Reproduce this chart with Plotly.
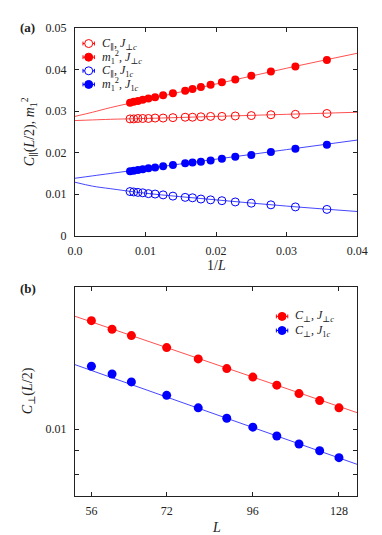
import math
import plotly.graph_objects as go

# ---------------- data: panel (a) ----------------
L_top = [128, 120, 112, 104, 96, 88, 80, 72, 64, 60, 56, 52, 48, 44, 40, 36, 32, 28]
inv_L = [1.0 / l for l in L_top]

C_par_Jperp = [0.0281, 0.0281, 0.0282, 0.0282, 0.0282, 0.0283, 0.0283, 0.0284, 0.0285,
               0.0285, 0.0286, 0.0287, 0.0287, 0.0288, 0.0289, 0.0291, 0.0292, 0.0294]
m1sq_Jperp = [0.0320, 0.0322, 0.0324, 0.0327, 0.0330, 0.0333, 0.0338, 0.0343, 0.0349,
              0.0353, 0.0358, 0.0363, 0.0369, 0.0376, 0.0385, 0.0395, 0.0407, 0.0423]
C_par_J1 = [0.0106, 0.0105, 0.0104, 0.0103, 0.0101, 0.0100, 0.0098, 0.0095, 0.0092,
            0.0091, 0.0088, 0.0086, 0.0084, 0.0081, 0.0078, 0.0074, 0.0069, 0.0063]
m1sq_J1 = [0.0155, 0.0156, 0.0158, 0.0160, 0.0162, 0.0164, 0.0167, 0.0170, 0.0174,
           0.0176, 0.0178, 0.0181, 0.0185, 0.0190, 0.0194, 0.0201, 0.0209, 0.0219]

# fit curves
fit_x = [0.0, 0.0025, 0.005, 0.01, 0.02, 0.03, 0.04]
fit_m1sq_Jperp = [0.0287, 0.0297, 0.0308, 0.0327, 0.0365, 0.0403, 0.0439]
fit_C_par_Jperp = [0.0277, 0.02785, 0.0280, 0.0282, 0.0287, 0.0292, 0.0297]
fit_m1sq_J1 = [0.0138, 0.01438, 0.01495, 0.0161, 0.0184, 0.0207, 0.0230]
fit_C_par_J1 = [0.01285, 0.0119, 0.0113, 0.0102, 0.0086, 0.0071, 0.0058]

x_ticks_a = [0.0, 0.01, 0.02, 0.03, 0.04]
x_ticktext_a = ["0.0", "0.01", "0.02", "0.03", "0.04"]
y_ticks_a = [0.0, 0.01, 0.02, 0.03, 0.04, 0.05]
y_ticktext_a = ["0", "0.01", "0.02", "0.03", "0.04", "0.05"]

# ---------------- data: panel (b) ----------------
L_bot = [56, 60, 64, 72, 80, 88, 96, 104, 112, 120, 128]
C_perp_Jperp = [0.0170, 0.0163, 0.0158, 0.0149, 0.0141, 0.01345, 0.0129, 0.0124, 0.0119, 0.0115, 0.0111]
C_perp_J1 = [0.0136, 0.0131, 0.0126, 0.0118, 0.0111, 0.01055, 0.0101, 0.00967, 0.0093, 0.0090, 0.0087]

fit_L = [53, 136]
fit_C_perp_Jperp = [0.01737, 0.01084]
fit_C_perp_J1 = [0.01371, 0.00842]

x_ticks_b = [56, 72, 96, 128]
y_ticks_b = [0.008, 0.009, 0.01, 0.02]
y_ticktext_b = ["", "", "0.01", ""]

# ---------------- styling ----------------
W, H = 382, 535
RED = "#ff0000"
BLUE = "#0000ff"
RED_LINE = "rgb(255,80,80)"
BLUE_LINE = "rgb(70,70,255)"
FONT = "Liberation Serif, DejaVu Serif, serif"
TXT = "#222"

def px(x):
    return x / W

def py(y):
    return 1 - y / H

fig = go.Figure()

# panel (a) fits
for fy, col in [(fit_m1sq_Jperp, RED_LINE), (fit_C_par_Jperp, RED_LINE),
                (fit_m1sq_J1, BLUE_LINE), (fit_C_par_J1, BLUE_LINE)]:
    fig.add_trace(go.Scatter(x=fit_x, y=fy, mode="lines", line=dict(color=col, width=1, shape="spline"),
                             xaxis="x", yaxis="y", showlegend=False, hoverinfo="skip"))

# panel (a) data
fig.add_trace(go.Scatter(x=inv_L, y=C_par_Jperp, mode="markers", name="C_par J_perp",
                         marker=dict(symbol="circle-open", size=8, color=RED, line=dict(width=1)),
                         xaxis="x", yaxis="y", showlegend=False))
fig.add_trace(go.Scatter(x=inv_L, y=m1sq_Jperp, mode="markers", name="m1^2 J_perp",
                         marker=dict(symbol="circle", size=8, color=RED),
                         xaxis="x", yaxis="y", showlegend=False))
fig.add_trace(go.Scatter(x=inv_L, y=C_par_J1, mode="markers", name="C_par J_1",
                         marker=dict(symbol="circle-open", size=8, color=BLUE, line=dict(width=1)),
                         xaxis="x", yaxis="y", showlegend=False))
fig.add_trace(go.Scatter(x=inv_L, y=m1sq_J1, mode="markers", name="m1^2 J_1",
                         marker=dict(symbol="circle", size=8, color=BLUE),
                         xaxis="x", yaxis="y", showlegend=False))

# panel (b) fits
for fy, col in [(fit_C_perp_Jperp, RED_LINE), (fit_C_perp_J1, BLUE_LINE)]:
    fig.add_trace(go.Scatter(x=fit_L, y=fy, mode="lines", line=dict(color=col, width=1),
                             xaxis="x2", yaxis="y2", showlegend=False, hoverinfo="skip"))
fig.add_trace(go.Scatter(x=L_bot, y=C_perp_Jperp, mode="markers", name="C_perp J_perp",
                         marker=dict(symbol="circle", size=9, color=RED),
                         xaxis="x2", yaxis="y2", showlegend=False))
fig.add_trace(go.Scatter(x=L_bot, y=C_perp_J1, mode="markers", name="C_perp J_1",
                         marker=dict(symbol="circle", size=9, color=BLUE),
                         xaxis="x2", yaxis="y2", showlegend=False))

# manual legends (symbol with small error-bar whiskers + text)
shapes = []
annotations = []

def legend_entry(xc, yc, color, filled, text, xtext):
    shapes.append(dict(type="line", xref="paper", yref="paper", x0=px(xc - 6), x1=px(xc + 6),
                       y0=py(yc), y1=py(yc), line=dict(color=color, width=1)))
    for e in (xc - 6, xc + 6):
        shapes.append(dict(type="line", xref="paper", yref="paper", x0=px(e), x1=px(e),
                           y0=py(yc - 2), y1=py(yc + 2), line=dict(color=color, width=1)))
    shapes.append(dict(type="circle", xref="paper", yref="paper", xsizemode="pixel", ysizemode="pixel",
                       xanchor=px(xc), yanchor=py(yc), x0=-4, x1=4, y0=-4, y1=4,
                       line=dict(color=color, width=1),
                       fillcolor=color if filled else "white"))
    annotations.append(dict(x=px(xtext), y=py(yc), xref="paper", yref="paper", text=text,
                            showarrow=False, xanchor="left", yanchor="middle",
                            font=dict(family=FONT, size=12, color=TXT)))

leg_a = [
    (RED, False, "<i>C</i><sub>∥</sub>, <i>J</i><sub>⊥<i>c</i></sub>"),
    (RED, True, "<i>m</i><sub>1</sub><sup>2</sup>, <i>J</i><sub>⊥<i>c</i></sub>"),
    (BLUE, False, "<i>C</i><sub>∥</sub>, <i>J</i><sub>1<i>c</i></sub>"),
    (BLUE, True, "<i>m</i><sub>1</sub><sup>2</sup>, <i>J</i><sub>1<i>c</i></sub>"),
]
for i, (c, f, t) in enumerate(leg_a):
    legend_entry(76.5, 29.3 + 14 * i, c, f, t, 88)

leg_b = [
    (RED, True, "<i>C</i><sub>⊥</sub>, <i>J</i><sub>⊥<i>c</i></sub>"),
    (BLUE, True, "<i>C</i><sub>⊥</sub>, <i>J</i><sub>1<i>c</i></sub>"),
]
for i, (c, f, t) in enumerate(leg_b):
    legend_entry(280, 309.5 + 14.5 * i, c, f, t, 292)

# titles and panel labels
annotations += [
    dict(x=px(2), y=py(13), xref="paper", yref="paper", text="<b>(a)</b>", showarrow=False,
         xanchor="left", yanchor="middle", font=dict(family=FONT, size=13, color=TXT)),
    dict(x=px(2), y=py(281), xref="paper", yref="paper", text="<b>(b)</b>", showarrow=False,
         xanchor="left", yanchor="middle", font=dict(family=FONT, size=13, color=TXT)),
    dict(x=px(14), y=py(120), xref="paper", yref="paper",
         text="<i>C</i><sub>∥</sub>(<i>L</i>/2), <i>m</i><sub>1</sub><sup>2</sup>",
         showarrow=False, textangle=-90, xanchor="center", yanchor="middle",
         font=dict(family=FONT, size=14, color=TXT)),
    dict(x=px(210.5), y=py(257), xref="paper", yref="paper", text="1/<i>L</i>", showarrow=False,
         xanchor="center", yanchor="middle", font=dict(family=FONT, size=14, color=TXT)),
    dict(x=px(14), y=py(386), xref="paper", yref="paper",
         text="<i>C</i><sub>⊥</sub>(<i>L</i>/2)",
         showarrow=False, textangle=-90, xanchor="center", yanchor="middle",
         font=dict(family=FONT, size=14, color=TXT)),
    dict(x=px(210.5), y=py(526), xref="paper", yref="paper", text="<i>L</i>", showarrow=False,
         xanchor="center", yanchor="middle", font=dict(family=FONT, size=14, color=TXT)),
]

xdom = [px(62), px(359)]
axis_common = dict(showline=True, linecolor=TXT, linewidth=1, mirror="allticks", ticks="inside",
                   ticklen=4, tickcolor=TXT, showgrid=False, zeroline=False,
                   tickfont=dict(family=FONT, size=12, color=TXT))

fig.update_layout(
    width=W, height=H, margin=dict(l=0, r=0, t=0, b=0),
    paper_bgcolor="white", plot_bgcolor="white",
    showlegend=False,
    font=dict(family=FONT, color=TXT),
    xaxis=dict(domain=xdom, anchor="y", range=[0, 0.04], tickmode="array",
               tickvals=x_ticks_a, ticktext=x_ticktext_a, ticklabelstandoff=4, **axis_common),
    yaxis=dict(domain=[py(226.5), py(13.3)], anchor="x", range=[0, 0.05], tickmode="array",
               tickvals=y_ticks_a, ticktext=y_ticktext_a, ticklabelstandoff=5, **axis_common),
    xaxis2=dict(domain=xdom, anchor="y2", type="log", range=[math.log10(53), math.log10(136)],
                tickmode="array", tickvals=x_ticks_b, ticktext=[str(v) for v in x_ticks_b],
                ticklabelstandoff=4, **axis_common),
    yaxis2=dict(domain=[py(494), py(279)], anchor="x2", type="log",
                range=[math.log10(0.00721), math.log10(0.02007)], tickmode="array",
                tickvals=y_ticks_b, ticktext=y_ticktext_b, ticklabelstandoff=5, **axis_common),
    shapes=shapes,
    annotations=annotations,
)

fig.write_html("out.html")
